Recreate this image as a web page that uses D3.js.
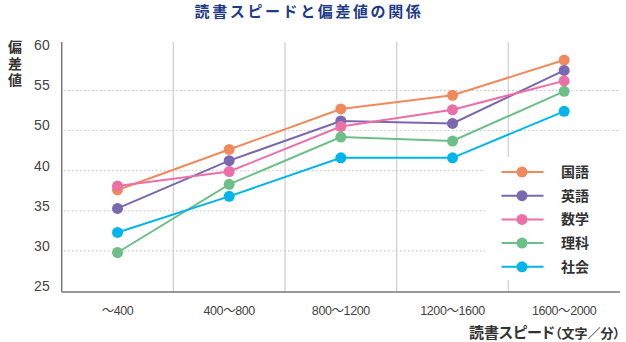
<!DOCTYPE html>
<html><head><meta charset="utf-8">
<script src="https://cdn.jsdelivr.net/npm/d3@7"></script>
<style>
html,body{margin:0;padding:0;background:#fff;}
svg{display:block;}
</style></head>
<body>
<svg id="chart" width="626" height="342"></svg>
<script>
const categories = ["～400", "400～800", "800～1200", "1200～1600", "1600～2000"];
const yTicks = [25, 30, 35, 40, 50, 55, 60];
const seriesNames = ["国語", "英語", "数学", "理科", "社会"];
const seriesColors = ["#f08a5d", "#7a68b0", "#ec70a8", "#6cbf87", "#00b5ea"];
const kokugo = [37.6, 45.3, 52.7, 54.4, 58.8];
const eigo   = [35.3, 42.5, 51.2, 50.9, 57.5];
const sugaku = [38.1, 39.9, 50.5, 52.6, 56.2];
const rika   = [29.8, 38.3, 48.4, 47.4, 54.9];
const shakai = [32.3, 36.8, 43.2, 43.2, 52.4];
const seriesValues = [kokugo, eigo, sugaku, rika, shakai];

(function () {
const svg = d3.select("#chart");
const jp = "'Noto Sans CJK JP', 'Noto Sans', sans-serif";
const num = "'Liberation Sans', Arial, sans-serif";

const pL = 61.7, pR = 620, pT = 42, pB = 292;
const x = d3.scaleBand().domain(categories).range([pL, pR]);
const y = d3.scaleLinear().domain(yTicks)
  .range(yTicks.map((d, i) => 291 - i * 40.1));

// title
svg.append("text").attr("x", 309).attr("y", 17).attr("text-anchor", "middle")
  .attr("font-family", jp).attr("font-weight", 700).attr("font-size", 15)
  .attr("letter-spacing", 2.6).attr("fill", "#1e3a8a").text("読書スピードと偏差値の関係");

// vertical grid (band separators)
svg.append("g").selectAll("line").data(categories.slice(1)).join("line")
  .attr("x1", d => x(d)).attr("x2", d => x(d))
  .attr("y1", pT).attr("y2", pB)
  .attr("stroke", "#d6d6d6").attr("stroke-width", 1.5);

// horizontal dotted grid
svg.append("g").selectAll("line").data(yTicks.filter(d => d > 25 && d < 60)).join("line")
  .attr("x1", pL + 2).attr("x2", pR)
  .attr("y1", d => y(d)).attr("y2", d => y(d))
  .attr("stroke", "#c8c8c8").attr("stroke-width", 1).attr("stroke-dasharray", "2,2");

// axes
const yAxis = d3.axisLeft(y).tickValues(yTicks).tickSize(0).tickPadding(8);
const gy = svg.append("g").attr("transform", `translate(${pL},0)`).call(yAxis);
gy.select(".domain").attr("d", `M0,${pT}V${pB}`).attr("stroke", "#777").attr("stroke-width", 1.5);
gy.selectAll("text").attr("font-family", num).attr("font-size", 14).attr("fill", "#444")
  .attr("dy", "-0.05em").attr("x", -12);

const xAxis = d3.axisBottom(x).tickSize(0).tickPadding(14);
const gx = svg.append("g").attr("transform", `translate(0,${pB})`).call(xAxis);
gx.select(".domain").attr("d", `M${pL},0H${pR}`).attr("stroke", "#777").attr("stroke-width", 1.5);
gx.selectAll("text").attr("font-family", num).attr("font-size", 12.5).attr("fill", "#444")
  .attr("letter-spacing", -0.4)
  .each(function (d) {
    const t = d3.select(this);
    t.text(null);
    d.split(/(～)/).filter(s => s.length).forEach(part => {
      const sp = t.append("tspan").text(part);
      if (part === "～") sp.attr("font-family", jp).style("font-feature-settings", "'palt'");
    });
  });

// y title (vertical)
svg.append("text").attr("x", 15).attr("y", 40)
  .attr("font-family", jp).attr("font-weight", 700).attr("font-size", 14)
  .attr("fill", "#333").attr("letter-spacing", 2.5)
  .style("writing-mode", "vertical-rl").text("偏差値");

// x title
const xt = svg.append("text").attr("x", 620).attr("y", 338).attr("text-anchor", "end")
  .attr("font-family", jp).attr("font-weight", 700).attr("fill", "#333")
  .style("font-feature-settings", "'palt'");
xt.append("tspan").attr("font-size", 15).text("読書スピード");
xt.append("tspan").attr("font-size", 13).text("（文字／分）");

// legend background
svg.append("rect").attr("x", 485).attr("y", 157).attr("width", 134).attr("height", 123).attr("fill", "#fff");

// lines
const line = d3.line().x((d, i) => x(categories[i]) + x.bandwidth() / 2).y(d => y(d));
seriesValues.forEach((vals, s) => {
  svg.append("path").datum(vals).attr("d", line).attr("fill", "none")
    .attr("stroke", seriesColors[s]).attr("stroke-width", 2);
});
seriesValues.forEach((vals, s) => {
  svg.append("g").selectAll("circle").data(vals).join("circle")
    .attr("cx", (d, i) => x(categories[i]) + x.bandwidth() / 2)
    .attr("cy", d => y(d)).attr("r", 5.5).attr("fill", seriesColors[s]);
});

// legend
const lg = svg.append("g");
seriesNames.forEach((n, i) => {
  const yy = 172 + i * 23.7;
  lg.append("line").attr("x1", 501.5).attr("x2", 543.5).attr("y1", yy).attr("y2", yy)
    .attr("stroke", seriesColors[i]).attr("stroke-width", 2);
  lg.append("circle").attr("cx", 522).attr("cy", yy).attr("r", 5.5).attr("fill", seriesColors[i]);
  lg.append("text").attr("x", 561).attr("y", yy + 5).attr("font-family", jp).attr("font-weight", 700)
    .attr("font-size", 14).attr("fill", "#333").text(n);
});
})();
</script>
</body></html>
